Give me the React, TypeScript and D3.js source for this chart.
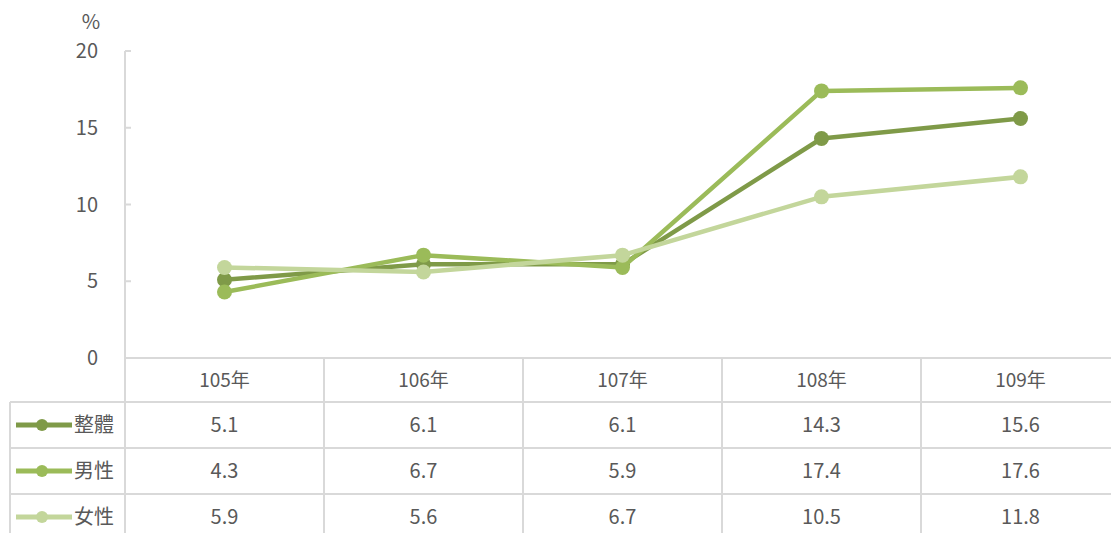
import React, { useRef, useEffect } from 'react';
import * as d3 from 'd3';

const years = ['105年', '106年', '107年', '108年', '109年'];
const seriesNames = ['整體', '男性', '女性'];
const overall = [5.1, 6.1, 6.1, 14.3, 15.6];
const male = [4.3, 6.7, 5.9, 17.4, 17.6];
const female = [5.9, 5.6, 6.7, 10.5, 11.8];
const yTicks = [0, 5, 10, 15, 20];
const colors = ['#7f9a48', '#9bbb59', '#c3d69b'];

const App: React.FC = () => {
  const svgRef = useRef<SVGSVGElement>(null);

  useEffect(() => {
    if (!svgRef.current) return;
    const width = 1111;
    const height = 533;
    const svg = d3.select(svgRef.current);
    svg.selectAll('*').remove();

    const font = '"Noto Sans CJK TC", "Noto Sans", sans-serif';
    const textColor = '#595959';
    const gridColor = '#d9d9d9';

    const left = 125;
    const bandW = 199;
    const x = d3.scaleBand<string>()
      .domain(years)
      .range([left, left + bandW * years.length])
      .padding(0);
    const y = d3.scaleLinear().domain([0, 20]).range([358, 51]);

    const rowH = 46;
    const headerTop = y(0);
    const rowTop = (i: number) => headerTop + 44 + i * rowH;

    // table grid
    const grid = svg.append('g').attr('stroke', gridColor).attr('stroke-width', 2);
    grid.append('line').attr('x1', left).attr('x2', width).attr('y1', headerTop).attr('y2', headerTop);
    for (let i = 0; i <= 3; i++) {
      grid.append('line').attr('x1', 10).attr('x2', width)
        .attr('y1', rowTop(i)).attr('y2', rowTop(i));
    }
    grid.append('line').attr('x1', left).attr('x2', left).attr('y1', y(20)).attr('y2', height);
    grid.append('line').attr('x1', 10).attr('x2', 10).attr('y1', rowTop(0)).attr('y2', height);
    years.forEach((yr, i) => {
      if (i === 0) return;
      const xx = x(yr)!;
      grid.append('line').attr('x1', xx).attr('x2', xx).attr('y1', headerTop).attr('y2', height);
    });

    // y axis ticks and labels
    yTicks.forEach(t => {
      grid.append('line').attr('x1', left).attr('x2', left + 6).attr('y1', y(t)).attr('y2', y(t));
      svg.append('text')
        .attr('x', 98).attr('y', y(t) + 7)
        .attr('text-anchor', 'end')
        .attr('fill', textColor)
        .style('font-family', font).style('font-size', '20px')
        .text(t);
    });
    svg.append('text')
      .attr('x', 91).attr('y', 29)
      .attr('text-anchor', 'middle')
      .attr('fill', textColor)
      .style('font-family', font).style('font-size', '20px')
      .text('%');

    // header row
    years.forEach(yr => {
      svg.append('text')
        .attr('x', x(yr)! + x.bandwidth() / 2).attr('y', headerTop + 29)
        .attr('text-anchor', 'middle')
        .attr('fill', textColor)
        .style('font-family', font).style('font-size', '19px')
        .text(yr);
    });

    const allData = [overall, male, female];

    // data rows and legend keys
    allData.forEach((vals, si) => {
      const cy = rowTop(si) + rowH / 2;
      svg.append('line')
        .attr('x1', 16).attr('x2', 72).attr('y1', cy).attr('y2', cy)
        .attr('stroke', colors[si]).attr('stroke-width', 5);
      svg.append('circle').attr('cx', 42).attr('cy', cy).attr('r', 6).attr('fill', colors[si]);
      svg.append('text')
        .attr('x', 74).attr('y', cy + 7)
        .attr('fill', textColor)
        .style('font-family', font).style('font-size', '20px')
        .text(seriesNames[si]);
      vals.forEach((v, i) => {
        svg.append('text')
          .attr('x', x(years[i])! + x.bandwidth() / 2).attr('y', cy + 7)
          .attr('text-anchor', 'middle')
          .attr('fill', textColor)
          .style('font-family', font).style('font-size', '20px')
          .text(v.toFixed(1));
      });
    });

    // series lines with markers
    const line = d3.line<number>()
      .x((_, i) => x(years[i])! + x.bandwidth() / 2)
      .y(d => y(d));

    allData.forEach((vals, si) => {
      const g = svg.append('g');
      g.append('path')
        .datum(vals)
        .attr('fill', 'none')
        .attr('stroke', colors[si])
        .attr('stroke-width', 4.5)
        .attr('stroke-linejoin', 'round')
        .attr('d', line);
      g.selectAll('circle')
        .data(vals)
        .enter()
        .append('circle')
        .attr('cx', (_, i) => x(years[i])! + x.bandwidth() / 2)
        .attr('cy', d => y(d))
        .attr('r', 7.5)
        .attr('fill', colors[si]);
    });
  }, []);

  return (
    <svg
      ref={svgRef}
      width={1111}
      height={533}
      style={{ position: 'absolute', left: 0, top: 0, background: '#ffffff' }}
    />
  );
};

export default App;
